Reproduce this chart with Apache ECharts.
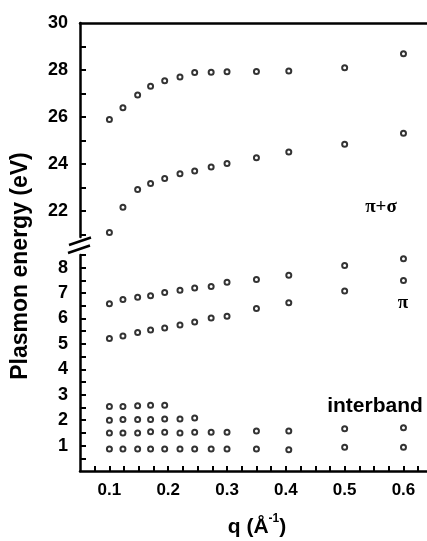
<!DOCTYPE html>
<html>
<head>
<meta charset="utf-8">
<script src="https://cdn.jsdelivr.net/npm/echarts@6/dist/echarts.min.js"></script>
</head>
<body style="margin:0;background:#fff">
<div id="c" style="width:427px;height:541px"></div>
<script>
// ---- data ----
const q = [0.1, 0.123, 0.148, 0.17, 0.194, 0.22, 0.245, 0.273, 0.3, 0.35, 0.405, 0.5, 0.6];
const sigmaHigh = [25.9, 26.4, 26.94, 27.31, 27.54, 27.7, 27.89, 27.91, 27.93, 27.94, 27.96, 28.1, 28.69];
const sigmaLow = [21.09, 22.17, 22.92, 23.18, 23.39, 23.59, 23.71, 23.88, 24.03, 24.27, 24.51, 24.84, 25.31];
const piHigh = [6.58, 6.75, 6.84, 6.9, 7.02, 7.11, 7.2, 7.26, 7.43, 7.54, 7.7, 8.09, 8.35];
const piLow = [5.21, 5.31, 5.45, 5.55, 5.63, 5.75, 5.86, 6.02, 6.09, 6.39, 6.62, 7.08, 7.5];
const inter1 = [0.87, 0.87, 0.87, 0.87, 0.87, 0.87, 0.87, 0.87, 0.87, 0.87, 0.84, 0.93, 0.93];
const inter15 = [1.5, 1.5, 1.5, 1.54, 1.52, 1.5, 1.52, 1.52, 1.52, 1.57, 1.57, 1.66, 1.7];
const inter2 = [2.0, 2.03, 2.03, 2.03, 2.05, 2.05, 2.09];
const inter25 = [2.54, 2.54, 2.57, 2.59, 2.59];

const xLabels = [0.1, 0.2, 0.3, 0.4, 0.5, 0.6];
const xTicks = [0.075, 0.1, 0.125, 0.15, 0.175, 0.2, 0.225, 0.25, 0.275, 0.3, 0.325, 0.35, 0.375, 0.4, 0.425, 0.45, 0.475, 0.5, 0.525, 0.55, 0.575, 0.6, 0.625];
const yTopLabels = [22, 24, 26, 28, 30];
const yTopTicks = [21, 22, 23, 24, 25, 26, 27, 28, 29];
const yBotLabels = [1, 2, 3, 4, 5, 6, 7, 8];
const yBotTicks = [0.5, 1, 1.5, 2, 2.5, 3, 3.5, 4, 4.5, 5, 5.5, 6, 6.5, 7, 7.5, 8, 8.5];

const pairs = (xs, ys) => ys.map((v, i) => [xs[i], v]);
const FONT = 'Liberation Sans, Arial, sans-serif';

function axLine() { return {show: true, onZero: false, lineStyle: {color: '#000', width: 2.5}}; }
function ticks(vals, len) { return {show: true, inside: true, length: len, customValues: vals, lineStyle: {color: '#000', width: 2}}; }
function labels(vals) { return {show: true, customValues: vals, margin: 12, color: '#000', fontFamily: FONT, fontWeight: 'bold', fontSize: 18}; }
function sc(xi, yi, data) {
  return {type: 'scatter', xAxisIndex: xi, yAxisIndex: yi, data: data,
    symbol: 'circle', symbolSize: 5,
    itemStyle: {color: '#fff', borderColor: '#000', borderWidth: 2}};
}

const mctx = document.createElement('canvas').getContext('2d');
mctx.font = 'bold 21px ' + FONT;
const w1 = mctx.measureText('q (Å').width;
const w3 = mctx.measureText(')').width;
mctx.font = 'bold 12px ' + FONT;
const w2 = mctx.measureText('-1').width;
const xs0 = 257 - (w1 + w2 + w3) / 2;

const opt = {
  animation: false,
  backgroundColor: '#fff',
  grid: [
    {left: 80, right: 0, top: 23, height: 214},
    {left: 80, right: 0, top: 255, height: 216}
  ],
  xAxis: [
    {type: 'value', gridIndex: 0, min: 0.05, max: 0.64, position: 'top', splitLine: {show: false},
      axisLine: axLine(), axisTick: {show: false}, axisLabel: {show: false}},
    {type: 'value', gridIndex: 1, min: 0.05, max: 0.64, position: 'bottom', splitLine: {show: false},
      axisLine: axLine(), axisTick: ticks(xTicks, 5),
      axisLabel: {show: true, customValues: xLabels, margin: 11, color: '#000', fontFamily: FONT, fontWeight: 'bold', fontSize: 17,
        formatter: function (v) { return Number(v).toFixed(1); }}}
  ],
  yAxis: [
    {type: 'value', gridIndex: 0, min: 20.9, max: 30, position: 'left', splitLine: {show: false},
      axisLine: axLine(), axisTick: ticks(yTopTicks, 6), axisLabel: labels(yTopLabels)},
    {type: 'value', gridIndex: 1, min: 0, max: 8.5, position: 'left', splitLine: {show: false},
      axisLine: axLine(), axisTick: ticks(yBotTicks, 6), axisLabel: labels(yBotLabels)}
  ],
  series: [
    sc(0, 0, pairs(q, sigmaHigh)),
    sc(0, 0, pairs(q, sigmaLow)),
    sc(1, 1, pairs(q, piHigh)),
    sc(1, 1, pairs(q, piLow)),
    sc(1, 1, pairs(q, inter1)),
    sc(1, 1, pairs(q, inter15)),
    sc(1, 1, pairs(q, inter2)),
    sc(1, 1, pairs(q, inter25))
  ],
  graphic: [
    {type: 'line', shape: {x1: 69, y1: 245, x2: 91, y2: 237.5}, style: {stroke: '#000', lineWidth: 2.5}},
    {type: 'line', shape: {x1: 68, y1: 253, x2: 90, y2: 245.5}, style: {stroke: '#000', lineWidth: 2.5}},
    {type: 'text', x: 21, y: 266, rotation: Math.PI / 2,
      style: {text: 'Plasmon energy (eV)', fill: '#000', font: 'bold 23px ' + FONT, textAlign: 'center', textVerticalAlign: 'middle'}},
    {type: 'text', x: xs0, y: 527, style: {text: 'q (Å', fill: '#000', font: 'bold 21px ' + FONT, textAlign: 'left', textVerticalAlign: 'middle'}},
    {type: 'text', x: xs0 + w1, y: 519, style: {text: '-1', fill: '#000', font: 'bold 12px ' + FONT, textAlign: 'left', textVerticalAlign: 'middle'}},
    {type: 'text', x: xs0 + w1 + w2, y: 527, style: {text: ')', fill: '#000', font: 'bold 21px ' + FONT, textAlign: 'left', textVerticalAlign: 'middle'}},
    {type: 'text', x: 381, y: 207,
      style: {text: 'π+σ', fill: '#000', font: 'bold 19px Liberation Serif, serif', textAlign: 'center', textVerticalAlign: 'middle'}},
    {type: 'text', x: 403, y: 303,
      style: {text: 'π', fill: '#000', font: 'bold 19px Liberation Serif, serif', textAlign: 'center', textVerticalAlign: 'middle'}},
    {type: 'text', x: 375, y: 406,
      style: {text: 'interband', fill: '#000', font: 'bold 21px ' + FONT, textAlign: 'center', textVerticalAlign: 'middle'}}
  ]
};
echarts.init(document.getElementById('c')).setOption(opt);
</script>
</body>
</html>
